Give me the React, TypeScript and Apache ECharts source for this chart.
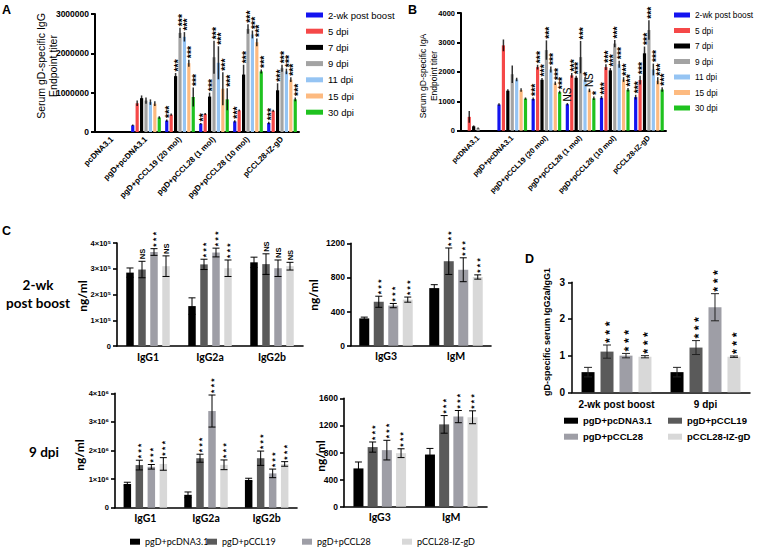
import React, { useEffect, useRef } from 'react';
import * as echarts from 'echarts';

const FONT = '"Liberation Sans", Arial, sans-serif';
const CAL = 'Lato, "Liberation Sans", sans-serif';

// ---------- Panels A & B ----------
const abGroups = ['pcDNA3.1', 'pgD+pcDNA3.1', 'pgD+pCCL19 (20 mol)', 'pgD+pCCL28 (1 mol)', 'pgD+pCCL28 (10 mol)', 'pCCL28-IZ-gD'];
const timepoints = ['2-wk post boost', '5 dpi', '7 dpi', '9 dpi', '11 dpi', '15 dpi', '30 dpi'];
const timeColors = ['#1414f0', '#f54848', '#000000', '#a3a3a3', '#95c4f3', '#fdba80', '#1fc21f'];

// rows follow timepoints, columns follow abGroups
const igGMean = [
  [0, 170000, 290000, 210000, 270000, 230000],
  [0, 730000, 440000, 460000, 550000, 540000],
  [0, 860000, 1420000, 900000, 1460000, 1060000],
  [0, 800000, 2520000, 1900000, 2620000, 1620000],
  [0, 760000, 2420000, 1760000, 2480000, 1540000],
  [0, 720000, 1750000, 1100000, 2280000, 1330000],
  [0, 370000, 890000, 830000, 1540000, 830000],
];
const igGSd = [
  [0, 20000, 30000, 20000, 30000, 30000],
  [0, 70000, 30000, 25000, 25000, 25000],
  [0, 70000, 80000, 100000, 250000, 180000],
  [0, 80000, 130000, 420000, 120000, 90000],
  [0, 70000, 120000, 420000, 100000, 70000],
  [0, 60000, 90000, 420000, 100000, 60000],
  [0, 30000, 240000, 280000, 50000, 50000],
];
const igGSig = [
  ['', '', '***', '**', '***', '***'],
  ['', '', '', '', '', ''],
  ['', '', '***', '***', '***', '***'],
  ['', '', '***', '***', '***', '***'],
  ['', '', '***', '***', '***', '***'],
  ['', '', '***', '***', '***', '***'],
  ['', '', '***', '***', '***', '***'],
];

const igAMean = [
  [0, 890, 1080, 900, 1120, 1140],
  [470, 2900, 2160, 1880, 2160, 1720],
  [150, 1360, 1730, 1800, 2050, 2630],
  [90, 1920, 2740, 2500, 2960, 3420],
  [0, 1740, 2080, 1740, 2260, 2080],
  [0, 1380, 1610, 1370, 1740, 1700],
  [0, 1090, 1310, 1100, 1390, 1400],
];
const igASd = [
  [0, 40, 50, 40, 60, 80],
  [200, 200, 80, 80, 100, 150],
  [30, 50, 60, 70, 80, 230],
  [20, 300, 330, 550, 120, 330],
  [0, 60, 100, 80, 120, 200],
  [0, 60, 60, 60, 80, 120],
  [0, 40, 50, 60, 60, 80],
];
const igASig = [
  ['', '', '***', 'NS', '***', '***'],
  ['', '', '***', '***', '***', '***'],
  ['', '', '***', '***', '***', '***'],
  ['', '', '***', '***', '***', '***'],
  ['', '', '***', '*', '***', '***'],
  ['', '', '***', 'NS', '***', '***'],
  ['', '', '***', '*', '***', '***'],
];

// ---------- Panel C & D ----------
const vaccineGroups = ['pgD+pcDNA3.1', 'pgD+pCCL19', 'pgD+pCCL28', 'pCCL28-IZ-gD'];
const vaccineColors = ['#000000', '#5a5a5a', '#9e9ea6', '#d8d8d8'];
const subclassA = ['IgG1', 'IgG2a', 'IgG2b'];
const subclassB = ['IgG3', 'IgM'];
const ratioTimes = ['2-wk post boost', '9 dpi'];

// rows follow vaccineGroups
const boostSubMean = [
  [285000, 155000, 325000],
  [297000, 317000, 318000],
  [365000, 363000, 302000],
  [310000, 302000, 310000],
];
const boostSubSd = [
  [18000, 32000, 20000],
  [32000, 20000, 40000],
  [13000, 17000, 32000],
  [40000, 32000, 15000],
];
const boostSubSig = [
  ['', '', ''],
  ['NS', '***', 'NS'],
  ['***', '***', 'NS'],
  ['NS', '***', 'NS'],
];

const boostOtherMean = [
  [320, 675],
  [515, 990],
  [470, 890],
  [540, 805],
];
const boostOtherSd = [
  [15, 40],
  [65, 155],
  [25, 140],
  [30, 25],
];
const boostOtherSig = [
  ['', ''],
  ['***', '***'],
  ['***', '***'],
  ['***', '***'],
];

const dpiSubMean = [
  [830000, 450000, 970000],
  [1490000, 1730000, 1730000],
  [1430000, 3380000, 1200000],
  [1530000, 1500000, 1530000],
];
const dpiSubSd = [
  [60000, 100000, 60000],
  [170000, 140000, 250000],
  [80000, 560000, 150000],
  [220000, 170000, 80000],
];
const dpiSubSig = [
  ['', '', ''],
  ['***', '***', '***'],
  ['***', '***', '***'],
  ['***', '***', '***'],
];

const dpiOtherMean = [
  [565, 770],
  [880, 1215],
  [835, 1330],
  [790, 1320],
];
const dpiOtherSd = [
  [95, 90],
  [75, 130],
  [145, 90],
  [65, 95],
];
const dpiOtherSig = [
  ['', ''],
  ['***', '***'],
  ['***', '***'],
  ['***', '***'],
];

const ratioMean = [
  [0.55, 0.55],
  [1.11, 1.22],
  [1.0, 2.32],
  [0.97, 0.97],
];
const ratioSd = [
  [0.13, 0.13],
  [0.18, 0.19],
  [0.06, 0.37],
  [0.03, 0.02],
];
const ratioSig = [
  ['', ''],
  ['***', '***'],
  ['***', '***'],
  ['***', '***'],
];

type ErrCfg = {
  cap: number;
  lw: number;
  color: string;
  starSize: number;
  nsSize: number;
  nsWeight: string;
  spaced: boolean;
  gap: number;
};

function buildOption() {
  const series: any[] = [];

  function addPanel(
    g: number,
    means: number[][],
    sds: number[][],
    sigs: string[][],
    names: string[],
    colors: string[],
    bw: number,
    gapPct: number,
    ec: ErrCfg
  ) {
    const n = means.length;
    const pitch = bw * (1 + gapPct / 100);
    means.forEach((row, k) => {
      series.push({
        type: 'bar',
        name: names[k],
        xAxisIndex: g,
        yAxisIndex: g,
        data: row,
        barWidth: bw,
        barGap: gapPct + '%',
        itemStyle: { color: colors[k] },
        silent: true,
        z: 2,
      });
    });
    means.forEach((row, k) => {
      const sigRow = sigs[k];
      series.push({
        type: 'custom',
        xAxisIndex: g,
        yAxisIndex: g,
        silent: true,
        z: 5,
        data: row.map((m, i) => [i, m, sds[k][i]]),
        renderItem: (_params: any, api: any) => {
          const i = api.value(0) as number;
          const m = api.value(1) as number;
          const sd = api.value(2) as number;
          const base = api.coord([i, m]);
          const x = base[0] + (k - (n - 1) / 2) * pitch;
          const yTop = api.coord([i, m + sd])[1];
          const yBot = api.coord([i, Math.max(0, m - sd)])[1];
          const children: any[] = [];
          const st = { stroke: ec.color, lineWidth: ec.lw };
          if (sd > 0) {
            children.push({ type: 'line', shape: { x1: x, y1: yTop, x2: x, y2: yBot }, style: st });
            if (ec.cap > 0) {
              children.push({ type: 'line', shape: { x1: x - ec.cap / 2, y1: yTop, x2: x + ec.cap / 2, y2: yTop }, style: st });
              children.push({ type: 'line', shape: { x1: x - ec.cap / 2, y1: yBot, x2: x + ec.cap / 2, y2: yBot }, style: st });
            }
          }
          const sig = sigRow[i];
          if (sig) {
            const isStar = sig.indexOf('*') >= 0;
            const txt = isStar && ec.spaced ? sig.split('').join(' ') : sig;
            const fs = isStar ? ec.starSize : ec.nsSize;
            children.push({
              type: 'text',
              x: x + (isStar ? fs * 0.22 : 0),
              y: yTop - ec.gap,
              rotation: Math.PI / 2,
              style: {
                text: txt,
                fontSize: fs,
                fontFamily: FONT,
                fontWeight: isStar ? 'bold' : ec.nsWeight,
                fill: '#000',
                align: 'left',
                verticalAlign: 'middle',
              },
            });
          }
          return { type: 'group', children };
        },
      });
    });
  }

  const abErr: ErrCfg = { cap: 0, lw: 1.5, color: 'rgba(0,0,0,0.8)', starSize: 10.5, nsSize: 10, nsWeight: 'normal', spaced: false, gap: 1.5 };
  const cErr: ErrCfg = { cap: 7, lw: 1, color: '#000', starSize: 8.5, nsSize: 7.5, nsWeight: 'bold', spaced: true, gap: 2 };
  const dErr: ErrCfg = { cap: 8, lw: 1, color: '#222', starSize: 12.5, nsSize: 9, nsWeight: 'bold', spaced: true, gap: 2 };

  addPanel(0, igGMean, igGSd, igGSig, timepoints, timeColors, 3.2, 38, abErr);
  addPanel(1, igAMean, igASd, igASig, timepoints, timeColors, 3.2, 38, abErr);
  addPanel(2, boostSubMean, boostSubSd, boostSubSig, vaccineGroups, vaccineColors, 7.5, 60, cErr);
  addPanel(3, boostOtherMean, boostOtherSd, boostOtherSig, vaccineGroups, vaccineColors, 10, 45, cErr);
  addPanel(4, dpiSubMean, dpiSubSd, dpiSubSig, vaccineGroups, vaccineColors, 7.5, 60, cErr);
  addPanel(5, dpiOtherMean, dpiOtherSd, dpiOtherSig, vaccineGroups, vaccineColors, 10, 42, cErr);
  addPanel(6, ratioMean, ratioSd, ratioSig, vaccineGroups, vaccineColors, 13, 46, dErr);

  const grids = [
    { left: 95, top: 14, width: 204, height: 118 },
    { left: 461, top: 13, width: 205, height: 117.7 },
    { left: 117, top: 243, width: 186, height: 103 },
    { left: 351, top: 243.3, width: 140, height: 102.4 },
    { left: 115, top: 393.3, width: 182, height: 114.4 },
    { left: 344, top: 398.3, width: 143, height: 108.4 },
    { left: 572, top: 282.3, width: 178, height: 110 },
  ];

  const catAxis = (g: number, data: string[], o: any) => ({
    type: 'category',
    gridIndex: g,
    data,
    axisLine: { lineStyle: { color: '#000', width: o.lw } },
    axisTick: { alignWithLabel: true, length: 4, lineStyle: { color: '#000', width: o.lw } },
    axisLabel: {
      color: '#000',
      fontFamily: o.font,
      fontSize: o.size,
      fontWeight: 'bold',
      rotate: o.rotate || 0,
      margin: o.margin,
      interval: 0,
    },
  });
  const valAxis = (g: number, max: number, interval: number, fmt: (v: number) => string, o: any) => ({
    type: 'value',
    gridIndex: g,
    min: 0,
    max,
    interval,
    splitLine: { show: false },
    axisLine: { show: true, lineStyle: { color: '#000', width: o.lw } },
    axisTick: { show: true, length: 4, lineStyle: { color: '#000', width: o.lw } },
    axisLabel: {
      color: '#000',
      fontFamily: FONT,
      fontSize: o.size,
      fontWeight: 'bold',
      margin: o.margin,
      formatter: fmt,
    },
  });

  const plain = (v: number) => String(v);
  const sci5 = (v: number) => (v === 0 ? '0' : `${v / 1e5}×10⁵`);
  const sci6 = (v: number) => (v === 0 ? '0' : `${v / 1e6}×10⁶`);

  const xAxis = [
    catAxis(0, abGroups, { lw: 2, font: FONT, size: 8, rotate: 45, margin: 6 }),
    catAxis(1, abGroups, { lw: 2, font: FONT, size: 7.5, rotate: 45, margin: 6 }),
    catAxis(2, subclassA, { lw: 1.6, font: CAL, size: 10.5, margin: 5 }),
    catAxis(3, subclassB, { lw: 1.6, font: CAL, size: 10.5, margin: 5 }),
    catAxis(4, subclassA, { lw: 1.6, font: CAL, size: 10.5, margin: 5 }),
    catAxis(5, subclassB, { lw: 1.6, font: CAL, size: 10.5, margin: 5 }),
    catAxis(6, ratioTimes, { lw: 1.5, font: FONT, size: 10, margin: 7 }),
  ];
  const yAxis = [
    valAxis(0, 3000000, 1000000, plain, { lw: 2, size: 8.5, margin: 6 }),
    valAxis(1, 4000, 1000, plain, { lw: 2, size: 7.5, margin: 6 }),
    valAxis(2, 400000, 100000, sci5, { lw: 1.6, size: 7.5, margin: 6 }),
    valAxis(3, 1200, 400, plain, { lw: 1.6, size: 8.5, margin: 6 }),
    valAxis(4, 4000000, 1000000, sci6, { lw: 1.6, size: 7.5, margin: 6 }),
    valAxis(5, 1600, 400, plain, { lw: 1.6, size: 8.5, margin: 6 }),
    valAxis(6, 3, 1, plain, { lw: 1.5, size: 10, margin: 7 }),
  ];

  const legTextA = { fontSize: 9.5, fontFamily: FONT, color: '#000', lineHeight: 12 };
  const legTextB = { fontSize: 8.3, fontFamily: FONT, color: '#000', lineHeight: 12 };
  const legC = { fontSize: 9, fontFamily: CAL, color: '#000', lineHeight: 12 };
  const legD = { fontSize: 9.5, fontFamily: FONT, fontWeight: 'bold', color: '#000', lineHeight: 12 };
  const legend: any[] = [
    { data: timepoints, orient: 'vertical', left: 306, top: 9, itemWidth: 17, itemHeight: 5, itemGap: 4.2, padding: 0, icon: 'rect', selectedMode: false, textStyle: legTextA },
    { data: timepoints, orient: 'vertical', left: 674, top: 9, itemWidth: 16, itemHeight: 5, itemGap: 3.5, padding: 0, icon: 'rect', selectedMode: false, textStyle: legTextB },
  ];
  const cLeft = [130, 207, 302, 402];
  vaccineGroups.forEach((nm, i) => {
    legend.push({ data: [nm], left: cLeft[i], top: 535.7, itemWidth: 10, itemHeight: 6, padding: 0, icon: 'rect', selectedMode: false, textStyle: legC });
  });
  const dPos = [[564, 414.7], [668, 414.7], [564, 430.7], [668, 430.7]];
  vaccineGroups.forEach((nm, i) => {
    legend.push({ data: [nm], left: dPos[i][0], top: dPos[i][1], itemWidth: 14, itemHeight: 6, padding: 0, icon: 'rect', selectedMode: false, textStyle: legD });
  });

  const label = (text: string, x: number, y: number) => ({
    type: 'text', x, y,
    style: { text, fontFamily: FONT, fontWeight: 'bold', fontSize: 12.5, fill: '#000', align: 'left', verticalAlign: 'top' },
  });
  const vtext = (text: string, x: number, y: number, font: string, size: number, weight: string, lh: number) => ({
    type: 'text', x, y, rotation: Math.PI / 2,
    style: { text, fontFamily: font, fontSize: size, fontWeight: weight, lineHeight: lh, fill: '#000', align: 'center', verticalAlign: 'middle' },
  });

  const graphic: any[] = [
    label('A', 2, 3),
    label('B', 408, 3),
    label('C', 2, 224),
    label('D', 525, 252),
    vtext('Serum gD-specific IgG\nEndpoint titer', 47, 66, FONT, 10.5, 'normal', 12),
    vtext('Serum gD-specific IgA\nEndpoint titer', 428, 76, FONT, 8.5, 'normal', 11),
    vtext('ng/ml', 82, 296, CAL, 12, 'bold', 14),
    vtext('ng/ml', 313, 295, CAL, 12, 'bold', 14),
    vtext('ng/ml', 79, 455, CAL, 12, 'bold', 14),
    vtext('ng/ml', 320, 456, CAL, 12, 'bold', 14),
    vtext('gD-specific serum IgG2a/IgG1', 547, 332, FONT, 9, 'bold', 11),
    {
      type: 'text', x: 38, y: 294,
      style: { text: '2-wk\npost boost', fontFamily: CAL, fontSize: 13.5, fontWeight: 'bold', lineHeight: 18, fill: '#000', align: 'center', verticalAlign: 'middle' },
    },
    {
      type: 'text', x: 44, y: 452,
      style: { text: '9 dpi', fontFamily: CAL, fontSize: 13.5, fontWeight: 'bold', fill: '#000', align: 'center', verticalAlign: 'middle' },
    },
  ];

  return {
    animation: false,
    backgroundColor: '#ffffff',
    grid: grids,
    xAxis,
    yAxis,
    legend,
    series,
    graphic,
  };
}

export default function App() {
  const ref = useRef<HTMLDivElement>(null);
  useEffect(() => {
    if (!ref.current) return;
    const chart = echarts.init(ref.current, null, { renderer: 'svg' });
    chart.setOption(buildOption() as any);
    return () => chart.dispose();
  }, []);
  return (
    <div
      ref={ref}
      style={{ position: 'absolute', left: 0, top: 0, width: 760, height: 547, background: '#fff' }}
    />
  );
}
